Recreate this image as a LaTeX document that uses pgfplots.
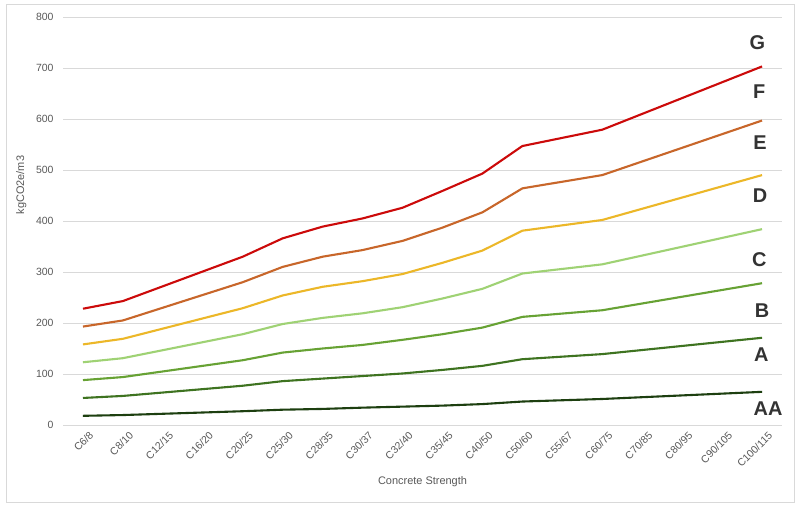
\documentclass[border=0pt]{standalone}
\usepackage{fontspec}
\setmainfont{Liberation Sans}
\usepackage{pgfplots}
\pgfplotsset{compat=1.18}
\definecolor{cG}{HTML}{CC0A0A}
\definecolor{cF}{HTML}{C8662A}
\definecolor{cE}{HTML}{ECB728}
\definecolor{cD}{HTML}{9FD274}
\definecolor{cC}{HTML}{67A234}
\definecolor{cB}{HTML}{3E7320}
\definecolor{cA}{HTML}{1D3F10}
\definecolor{txt}{HTML}{595959}
\definecolor{grd}{HTML}{D9D9D9}
\begin{document}
\begin{tikzpicture}[x=1bp,y=1bp]
\useasboundingbox (0,0) rectangle (800,510);
\fill[white] (0,0) rectangle (800,510);
\draw[grd, line width=0.8bp] (6,8) rectangle (794,506);
\begin{axis}[
  at={(63bp,85bp)}, anchor=south west,
  scale only axis, width=719bp, height=408bp,
  xmin=-0.5, xmax=17.5, ymin=0, ymax=800,
  xtick={0,...,17},
  xticklabels={C6/8,C8/10,C12/15,C16/20,C20/25,C25/30,C28/35,C30/37,C32/40,C35/45,C40/50,C50/60,C55/67,C60/75,C70/85,C80/95,C90/105,C100/115},
  ytick={0,100,...,800},
  ymajorgrids, grid style={grd, line width=0.8bp},
  axis x line*=bottom, axis y line*=left,
  x axis line style={grd, line width=0.8bp, -},
  y axis line style={draw=none},
  major tick length=0pt,
  tick label style={font=\fontsize{10.5}{12}\selectfont, text=txt},
  /pgf/number format/assume math mode=true,
  xticklabel style={rotate=45, anchor=north east, inner sep=1pt, yshift=-7bp, xshift=1bp},
  yticklabel style={xshift=-6bp},
  xlabel={Concrete Strength}, ylabel={kgCO2e/m3},
  label style={font=\fontsize{11}{13}\selectfont, text=txt},
  xlabel style={at={(axis description cs:0.5,-0.14)}, anchor=center},
  ylabel style={at={(axis description cs:-0.058,0.588)}, anchor=center},
  every axis plot/.append style={line width=2.1bp, mark=none, line join=round},
  clip=false,
]
\addplot[cG] coordinates {(0,228)(1,243)(4,330)(5,366)(6,389)(7,405)(8,426)(9,459)(10,493)(11,547)(13,579)(17,703)};
\addplot[cF] coordinates {(0,193)(1,205)(4,280)(5,310)(6,330)(7,343)(8,361)(9,387)(10,417)(11,464)(13,490)(17,597)};
\addplot[cE] coordinates {(0,158)(1,169)(4,229)(5,254)(6,271)(7,282)(8,296)(9,318)(10,342)(11,381)(13,402)(17,490)};
\addplot[cD] coordinates {(0,123)(1,131)(4,178)(5,198)(6,210)(7,219)(8,231)(9,248)(10,267)(11,297)(13,315)(17,384)};
\addplot[cC] coordinates {(0,88)(1,94)(4,127)(5,142)(6,150)(7,157)(8,167)(9,178)(10,191)(11,212)(13,225)(17,278)};
\addplot[cB] coordinates {(0,53)(1,57)(4,77)(5,86)(6,91)(7,96)(8,101)(9,108)(10,116)(11,129)(13,139)(17,171)};
\addplot[cA] coordinates {(0,18)(1,19.5)(4,27)(5,30)(6,31.5)(7,34)(8,36)(9,38)(10,41)(11,46)(13,51)(17,65)};
\begin{scope}[every node/.style={font=\fontsize{20}{24}\selectfont\bfseries, text=black!80, anchor=center}]
\node at (axis cs:16.88,749) {G};
\node at (axis cs:16.93,653) {F};
\node at (axis cs:16.95,553) {E};
\node at (axis cs:16.95,449) {D};
\node at (axis cs:16.93,324) {C};
\node at (axis cs:17.0,225) {B};
\node at (axis cs:16.98,137) {A};
\node at (axis cs:17.15,33) {AA};
\end{scope}
\end{axis}
\end{tikzpicture}
\end{document}
